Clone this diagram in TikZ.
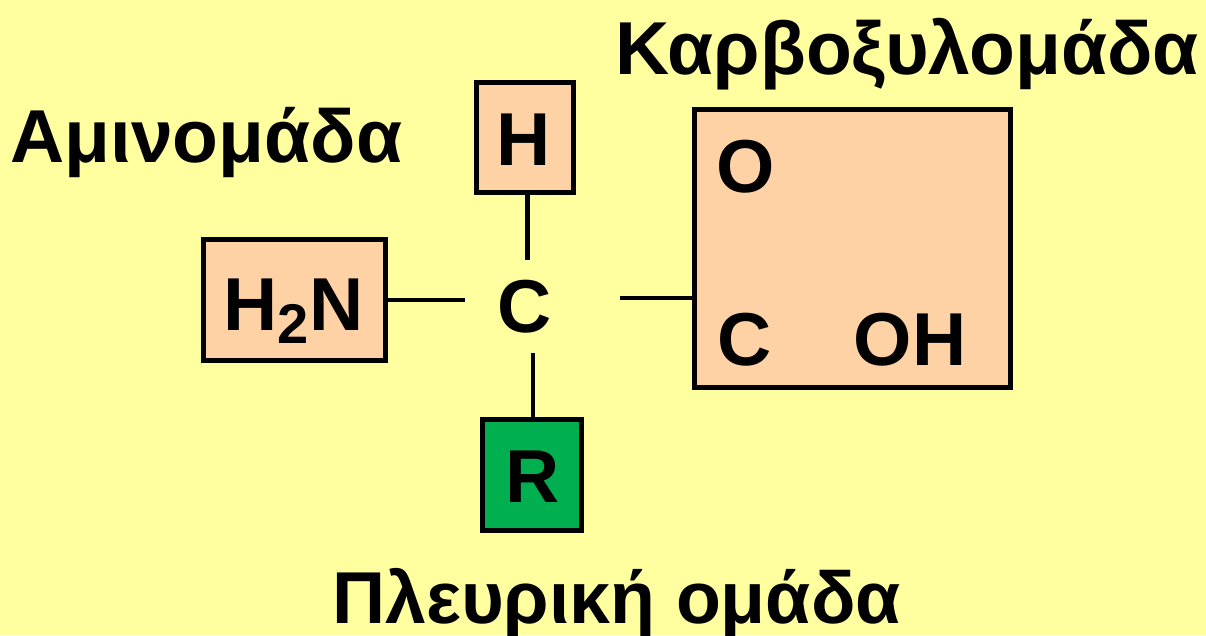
\documentclass[tikz,border=0pt]{standalone}
\usepackage{fontspec}
\setmainfont{Liberation Sans}
\definecolor{bgyellow}{RGB}{255,255,160}
\definecolor{peach}{RGB}{255,210,165}
\definecolor{rgreen}{RGB}{0,176,80}
\tikzset{
  box/.style={draw=black, line width=5pt, fill=peach, inner sep=0pt},
  gbox/.style={box, fill=rgreen},
  lbl/.style={anchor=base, inner sep=0pt, font=\fontsize{75}{90}\selectfont\bfseries},
  bond/.style={line width=4.5pt},
}
\begin{document}
\begin{tikzpicture}[x=1pt,y=-1pt]
\fill[bgyellow] (0,0) rectangle (1206,635);
\useasboundingbox (0,0) rectangle (1206,635);
% boxes
\node[box, minimum width=97pt, minimum height=110pt] (hbox) at (525,137.5) {};
\node[box, minimum width=182pt, minimum height=121pt] (nbox) at (294.5,300) {};
\node[gbox, minimum width=99pt, minimum height=111pt] (rbox) at (532,475) {};
\node[box, minimum width=316pt, minimum height=278pt] (cbox) at (852.5,248.5) {};
% texts
\node[lbl] (h) at (524,165.7) {H};
\node[lbl] (n) at (293.5,330.7) {H\raisebox{-12.3pt}{\fontsize{56}{60}\selectfont\bfseries 2}N};
\node[lbl] (c) at (524.5,332) {C};
\node[lbl] (r) at (532.5,502) {R};
\node[lbl] (o) at (746,192) {O};
\node[lbl] (cc) at (745,365) {C};
\node[lbl] (oh) at (910,365) {OH};
\node[lbl, anchor=base west] (amino) at (10,162) {Αμινομάδα};
\node[lbl, anchor=base west] (carboxy) at (615,74) {Καρβοξυλομάδα};
\node[lbl, anchor=base west, font=\fontsize{73.5}{88}\selectfont\bfseries] (side) at (332,623) {Πλευρική ομάδα};
% bond ends
\coordinate (ht) at (527.7,260);
\coordinate (nl) at (465,300);
\coordinate (rt) at (533,353);
\coordinate (cr) at (620,298);
\draw[bond] (hbox.south -| ht) -- (ht);
\draw[bond] (nbox.east |- nl) -- (nl);
\draw[bond] (rbox.north -| rt) -- (rt);
\draw[bond] (cr) -- (cbox.west |- cr);
\end{tikzpicture}
\end{document}
